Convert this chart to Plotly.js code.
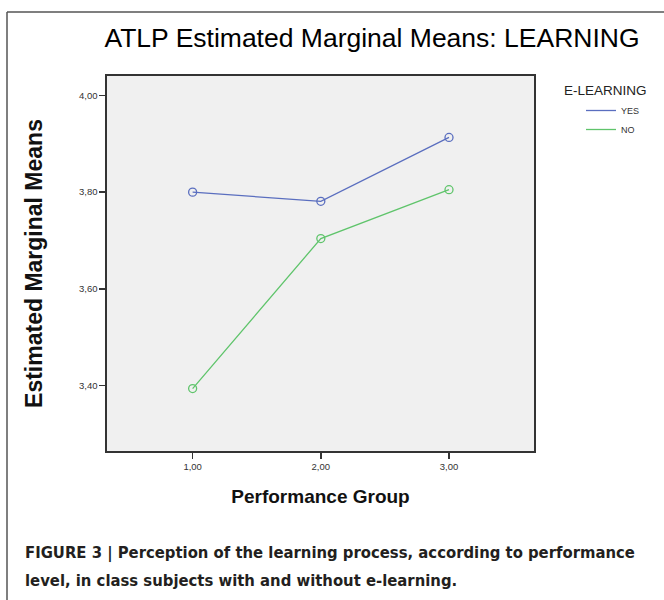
<!DOCTYPE html>
<html>
<head>
<meta charset="utf-8">
<script src="https://cdn.plot.ly/plotly-3.0.1.min.js"></script>
<style>html,body{margin:0;padding:0;background:#fff;}#chart{width:664px;height:600px;}</style>
</head>
<body>
<div id="chart"></div>
<script>
const groups = [1, 2, 3];
const groupLabels = ["1,00", "2,00", "3,00"];
const yesValues = [3.800, 3.781, 3.913];
const noValues = [3.394, 3.704, 3.805];
const yTickVals = [3.4, 3.6, 3.8, 4.0];
const yTickLabels = ["3,40", "3,60", "3,80", "4,00"];
const seriesNames = ["YES", "NO"];
const seriesColors = ["#5a6ebf", "#5fc46b"];

const seriesValues = [yesValues, noValues];
const traces = [];
seriesValues.forEach((vals, i) => {
  traces.push({
    x: groups, y: vals, type: 'scatter', mode: 'lines',
    name: seriesNames[i],
    line: {color: seriesColors[i], width: 1.3},
    showlegend: true, hoverinfo: 'skip'
  });
});
seriesValues.forEach((vals, i) => {
  traces.push({
    x: groups, y: vals, type: 'scatter', mode: 'markers',
    name: seriesNames[i],
    marker: {symbol: 'circle-open', size: 8, color: seriesColors[i], line: {width: 1.3, color: seriesColors[i]}},
    showlegend: false, hoverinfo: 'skip'
  });
});

const L = 107, R = 534, T = 76, B = 451, W = 664, H = 600;
const px = v => (v - L) / (R - L);
const py = v => (B - v) / (B - T);
const captionFont = {size: 16.5, color: '#231f20', family: 'Liberation Sans Narrow, DejaVu Sans Condensed, sans-serif', weight: 'bold'};

const layout = {
  width: W, height: H,
  margin: {l: L, r: W - R, t: T, b: H - B},
  paper_bgcolor: '#ffffff',
  plot_bgcolor: '#f0f0f0',
  font: {family: 'Liberation Sans, Arial, sans-serif', color: '#333'},
  title: {
    text: 'ATLP Estimated Marginal Means: LEARNING',
    font: {size: 26.5, color: '#000', family: 'Liberation Sans, Arial, sans-serif'},
    x: 372 / W, xanchor: 'center', xref: 'container',
    y: 1 - 38 / H, yanchor: 'middle', yref: 'container'
  },
  xaxis: {
    range: [0.332, 3.663],
    tickvals: groups, ticktext: groupLabels,
    ticks: 'outside', ticklen: 6, tickwidth: 1.5, tickcolor: '#333',
    tickfont: {size: 9.5, color: '#333'},
    showline: true, mirror: true, linecolor: '#333', linewidth: 1.6,
    showgrid: false, zeroline: false,
    title: {text: 'Performance Group', standoff: 18,
      font: {size: 19, color: '#111', family: 'Liberation Sans, Arial, sans-serif', weight: 'bold'}}
  },
  yaxis: {
    range: [3.265, 4.04],
    tickvals: yTickVals, ticktext: yTickLabels,
    ticks: 'outside', ticklen: 6, tickwidth: 1.5, tickcolor: '#333',
    tickfont: {size: 9.5, color: '#333'},
    showline: true, mirror: true, linecolor: '#333', linewidth: 1.6,
    showgrid: false, zeroline: false,
    title: {text: 'Estimated Marginal Means', standoff: 30,
      font: {size: 23, color: '#111', family: 'Liberation Sans, Arial, sans-serif', weight: 'bold'}}
  },
  legend: {
    x: px(581), y: py(96), xanchor: 'left', yanchor: 'top',
    font: {size: 9, color: '#333'},
    itemwidth: 30, bgcolor: 'rgba(0,0,0,0)', tracegroupgap: 0
  },
  annotations: [
    {text: 'E-LEARNING', xref: 'paper', yref: 'paper', x: px(562), y: py(90),
     xanchor: 'left', yanchor: 'middle', showarrow: false,
     font: {size: 13.5, color: '#222'}},
    {text: 'FIGURE 3 | Perception of the learning process, according to performance',
     xref: 'paper', yref: 'paper', x: px(23), y: py(553), xanchor: 'left', yanchor: 'middle',
     showarrow: false, font: captionFont},
    {text: 'level, in class subjects with and without e-learning.',
     xref: 'paper', yref: 'paper', x: px(23), y: py(580), xanchor: 'left', yanchor: 'middle',
     showarrow: false, font: captionFont}
  ],
  shapes: [
    {type: 'line', xref: 'paper', yref: 'paper', x0: px(7), x1: px(7), y0: py(12), y1: py(H + 5),
     line: {color: '#555', width: 1.5}},
    {type: 'line', xref: 'paper', yref: 'paper', x0: px(7), x1: px(W + 5), y0: py(12), y1: py(12),
     line: {color: '#555', width: 1.5}}
  ]
};

Plotly.newPlot('chart', traces, layout, {displayModeBar: false, staticPlot: true});
</script>
</body>
</html>
